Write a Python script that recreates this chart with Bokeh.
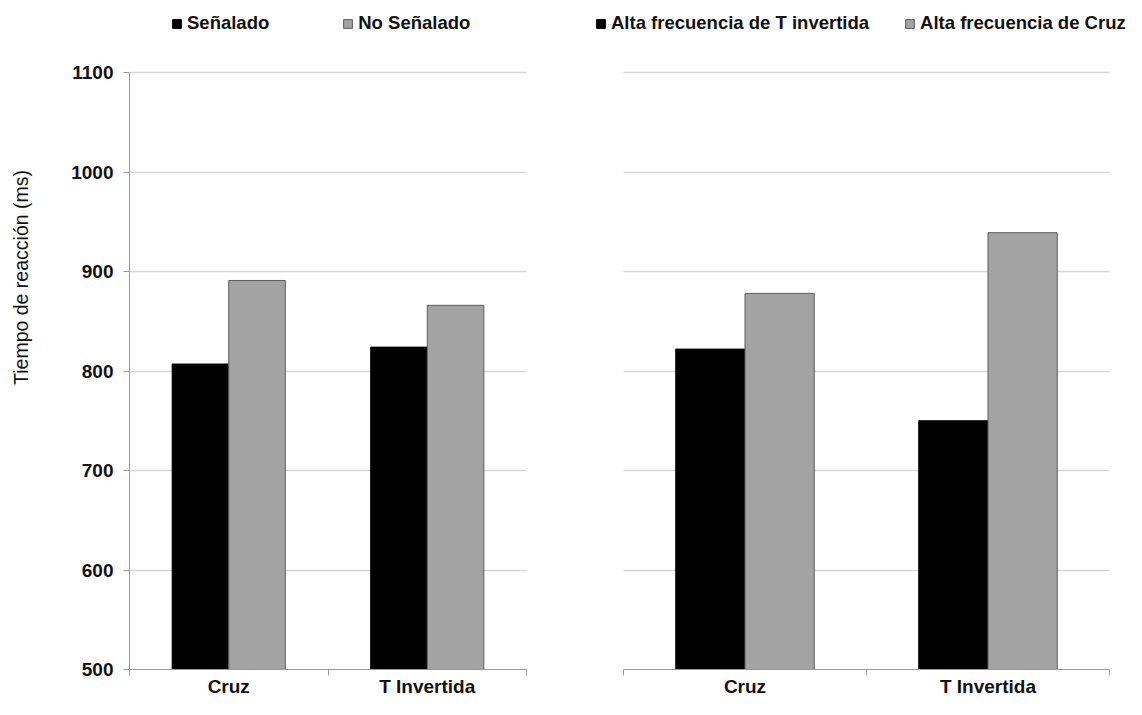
from bokeh.plotting import figure
from bokeh.models import ColumnDataSource, Range1d, FixedTicker, Legend, LegendItem, Label
from bokeh.layouts import row
from bokeh.transform import dodge
from bokeh.embed import file_html
from bokeh.resources import INLINE

# ---- data ----
categories = ["Cruz", "T Invertida"]
senalado = [807, 824]
no_senalado = [891, 866]
alta_t_invertida = [822, 750]
alta_cruz = [878, 939]
y_ticks = [500, 600, 700, 800, 900, 1000, 1100]
y_title = "Tiempo de reacción (ms)"

FONT = "Liberation Sans"
BAR_W = 0.285
GRID = "#d6d6d6"
AXIS = "#9a9a9a"
TXT = "#111111"

H = 699           # figure height
B_BOTTOM = 30     # room for the category labels
TOP_PX = 72       # pixel row of the top gridline (legend lives above it, inside the frame)
TITLE_W = 42      # width of the strip holding the y-axis title


def make_panel(width, b_left, b_right, x_pad_left, x_pad_right, series_a, series_b,
               label_a, label_b, show_y, legend_x, legend_spacing):
    n = len(categories)
    pos = [i + 0.5 for i in range(n)]
    src = ColumnDataSource(dict(x=pos, a=series_a, b=series_b))
    frame_h = H - B_BOTTOM
    y_span = y_ticks[-1] - y_ticks[0]
    y_end = y_ticks[-1] + y_span * TOP_PX / (frame_h - TOP_PX)
    frame_w = width - b_left - b_right
    unit = (frame_w - x_pad_left - x_pad_right) / n
    p = figure(width=width, height=H, output_backend="svg", toolbar_location=None,
               x_range=Range1d(-x_pad_left / unit, n + x_pad_right / unit),
               y_range=Range1d(y_ticks[0], y_end),
               min_border_left=b_left, min_border_right=b_right,
               min_border_top=0, min_border_bottom=B_BOTTOM)
    p.outline_line_color = None
    p.background_fill_color = "white"
    p.border_fill_color = "white"

    ra = p.vbar(x=dodge("x", -BAR_W / 2), top="a", bottom=y_ticks[0], width=BAR_W,
                source=src, fill_color="black", line_color="black", line_width=1)
    rb = p.vbar(x=dodge("x", BAR_W / 2), top="b", bottom=y_ticks[0], width=BAR_W,
                source=src, fill_color="#a3a3a3", line_color="#5c5c5c", line_width=1)

    # x axis: labels at category centres, tick marks at category boundaries
    xa = p.xaxis[0]
    xa.bounds = (0, n)
    xa.ticker = FixedTicker(ticks=pos, minor_ticks=list(range(n + 1)))
    xa.major_label_overrides = {pp: c for pp, c in zip(pos, categories)}
    xa.major_tick_out = 0
    xa.major_tick_in = 0
    xa.minor_tick_out = 6
    xa.minor_tick_in = 0
    xa.minor_tick_line_color = AXIS
    xa.axis_line_color = AXIS
    xa.major_label_standoff = 0
    xa.major_label_text_font = FONT
    xa.major_label_text_font_style = "bold"
    xa.major_label_text_font_size = "19px"
    xa.major_label_text_color = TXT
    p.xgrid.visible = False

    ya = p.yaxis[0]
    ya.bounds = (y_ticks[0], y_ticks[-1])
    ya.ticker = FixedTicker(ticks=y_ticks, minor_ticks=[])
    p.ygrid.ticker = FixedTicker(ticks=y_ticks)
    p.ygrid.cross_bounds = (0, n)
    p.ygrid.grid_line_color = GRID
    p.ygrid.grid_line_width = 1.5
    if show_y:
        ya.major_tick_out = 6
        ya.major_tick_in = 0
        ya.minor_tick_out = 0
        ya.minor_tick_in = 0
        ya.axis_line_color = AXIS
        ya.major_tick_line_color = AXIS
        ya.major_label_standoff = 10
        ya.major_label_text_font = FONT
        ya.major_label_text_font_style = "bold"
        ya.major_label_text_font_size = "19px"
        ya.major_label_text_color = TXT
    else:
        ya.visible = False

    legend = Legend(items=[LegendItem(label=label_a, renderers=[ra]),
                           LegendItem(label=label_b, renderers=[rb])],
                    orientation="horizontal", location=(legend_x, frame_h - 34),
                    padding=0, margin=0, border_line_color=None,
                    background_fill_alpha=0, glyph_width=11, glyph_height=11,
                    label_height=22, label_standoff=5, spacing=legend_spacing,
                    label_text_font=FONT, label_text_font_style="bold",
                    label_text_font_size="18.5px", label_text_color=TXT)
    p.add_layout(legend)
    return p


# narrow strip carrying the rotated y-axis title
pt = figure(width=TITLE_W, height=H, output_backend="svg", toolbar_location=None,
            x_axis_location=None, y_axis_location=None,
            x_range=Range1d(0, 1), y_range=Range1d(0, 1),
            min_border_left=0, min_border_right=0, min_border_top=0, min_border_bottom=0)
pt.outline_line_color = None
pt.xgrid.visible = False
pt.ygrid.visible = False
pt.border_fill_color = "white"
pt.add_layout(Label(x=20, y=H - 307, x_units="screen", y_units="screen",
                    text=y_title, angle=90, angle_units="deg",
                    text_align="center", text_baseline="middle",
                    text_font=FONT, text_font_size="19.5px", text_color=TXT))

p1 = make_panel(575 - TITLE_W, 129 - TITLE_W, 49, 0, 0, senalado, no_senalado,
                "Señalado", "No Señalado", True, 42, 73)
p2 = make_panel(551, 0, 0, 48, 17, alta_t_invertida, alta_cruz,
                "Alta frecuencia de T invertida", "Alta frecuencia de Cruz",
                False, 20, 35)

layout = row(pt, p1, p2)
open("out.html", "w").write(file_html(layout, INLINE))
